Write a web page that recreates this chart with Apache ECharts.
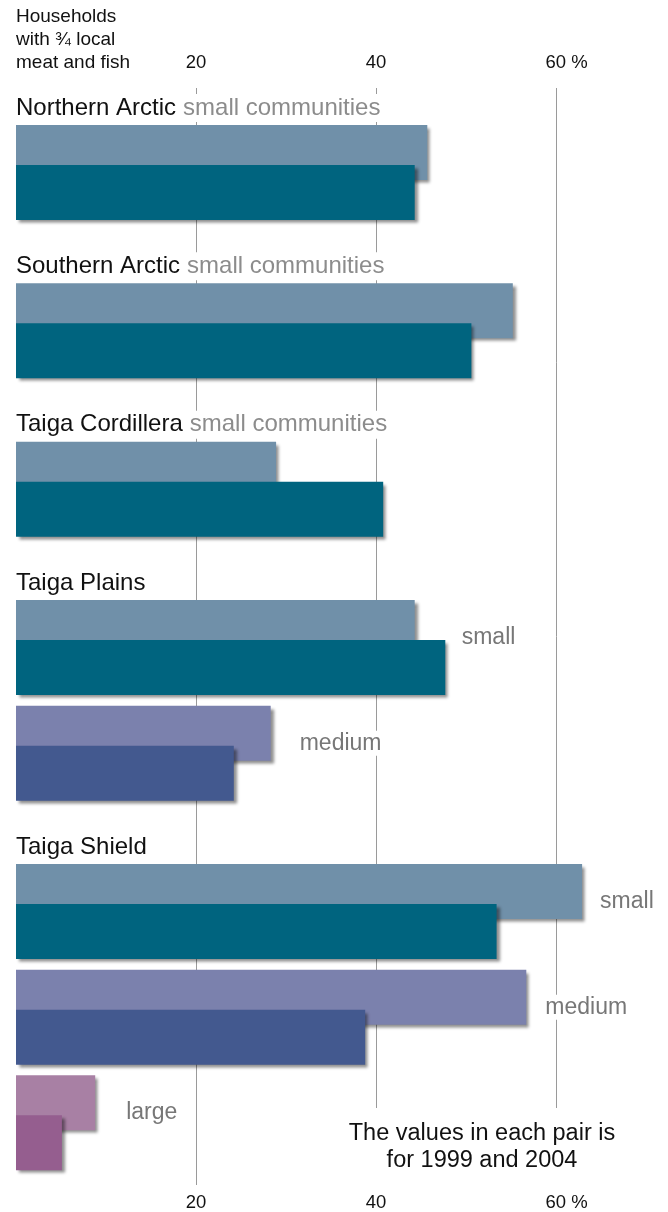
<!DOCTYPE html>
<html><head><meta charset="utf-8">
<script src="https://cdn.jsdelivr.net/npm/echarts@6/dist/echarts.min.js"></script>
<style>html,body{margin:0;padding:0;background:#fff}#c{width:668px;height:1212px}</style>
</head><body><div id="c"></div>
<script>
// ---- data ----
const regions = ['Northern Arctic','Southern Arctic','Taiga Cordillera','Taiga Plains','Taiga Plains','Taiga Shield','Taiga Shield','Taiga Shield'];
const sizes = ['small','small','small','small','medium','small','medium','large'];
const values1999 = [45.7, 55.2, 28.9, 44.3, 28.3, 62.9, 56.7, 8.8];
const values2004 = [44.3, 50.6, 40.8, 47.7, 24.2, 53.4, 38.8, 5.1];
const tickValues = [20, 40, 60];
const axisTitle = 'Households\nwith \u00BE local\nmeat and fish';
const noteText = 'The values in each pair is\nfor 1999 and 2004';
const singleSizeSuffix = ' communities';

// ---- layout / style ----
const FONT = '"Liberation Sans", Arial, Helvetica, sans-serif';
const rowSlot = [0, 3, 6, 9, 11, 14, 16, 18];
const slotCount = 19;
const sizeLabelDist = [0, 0, 0, 44, 26, 15, 16, 28];
const colors1999 = {small: '#7090a9', medium: '#7b81ad', large: '#a880a4'};
const colors2004 = {small: '#00647f', medium: '#43598f', large: '#955e8f'};
const shadow = {shadowBlur: 3, shadowColor: 'rgba(0,0,0,0.45)', shadowOffsetX: 3, shadowOffsetY: 3};

const regionCount = {};
regions.forEach(r => regionCount[r] = (regionCount[r] || 0) + 1);

const cats = Array.from({length: slotCount}, (_, i) => 'slot' + i);
const d1999 = Array(slotCount).fill('-');
const d2004 = Array(slotCount).fill('-');
const seen = {};
regions.forEach((r, i) => {
  const s = rowSlot[i];
  const single = regionCount[r] === 1;
  const item1999 = {value: values1999[i], itemStyle: Object.assign({color: colors1999[sizes[i]]}, shadow)};
  const item2004 = {value: values2004[i], itemStyle: Object.assign({color: colors2004[sizes[i]]}, shadow)};
  if (!single) {
    item1999.label = {
      show: true, position: 'right', distance: sizeLabelDist[i], offset: [0, 10],
      formatter: sizes[i], color: '#777', fontSize: 23, fontFamily: FONT,
      backgroundColor: '#fff', padding: [1, 3]
    };
  }
  if (!seen[r]) {
    seen[r] = true;
    item2004.label = {
      show: true, position: [0, -57], align: 'left', verticalAlign: 'middle',
      formatter: single ? '{r|' + r + '}{s|' + sizes[i] + singleSizeSuffix + '}' : '{r|' + r + '}',
      backgroundColor: '#fff', padding: [1, 3, 1, 0],
      rich: {
        r: {fontSize: 24, color: '#111', fontFamily: FONT, lineHeight: 26},
        s: {fontSize: 24, color: '#8c8c8c', fontFamily: FONT, lineHeight: 26, padding: [0, 0, 0, 7]}
      }
    };
  }
  d1999[s] = item1999;
  d2004[s] = item2004;
});

const tickFormatter = v => tickValues.indexOf(v) < 0 ? '' : (v === 60 ? '{p|' + v + ' %}' : '{n|' + v + '}');
const tickRich = {n: {fontSize: 18.5, color: '#111', fontFamily: FONT}, p: {fontSize: 18.5, color: '#111', fontFamily: FONT, padding: [0, 0, 0, 21]}};

const chart = echarts.init(document.getElementById('c'), null, {renderer: 'canvas'});
chart.setOption({
  animation: false,
  backgroundColor: '#fff',
  title: {
    text: axisTitle, left: 16, top: 5, padding: 0,
    textStyle: {fontSize: 19, fontWeight: 'normal', color: '#111', fontFamily: FONT, lineHeight: 23}
  },
  grid: [
    {left: 16, width: 648, top: 146, height: 1003.2},
    {left: 16, width: 648, top: 88, height: 1097}
  ],
  xAxis: [
    {gridIndex: 0, type: 'value', min: 0, max: 72, interval: 20, show: false},
    {gridIndex: 1, type: 'value', min: 0, max: 72, interval: 20, position: 'top',
      axisLine: {show: false}, axisTick: {show: false},
      splitLine: {show: true, showMinLine: false, showMaxLine: false, lineStyle: {color: '#9a9a9a', width: 1}},
      axisLabel: {margin: 16, showMinLabel: false, showMaxLabel: false, formatter: tickFormatter, rich: tickRich}},
    {gridIndex: 1, type: 'value', min: 0, max: 72, interval: 20, position: 'bottom',
      axisLine: {show: false}, axisTick: {show: false}, splitLine: {show: false},
      axisLabel: {margin: 8, showMinLabel: false, showMaxLabel: false, formatter: tickFormatter, rich: tickRich}}
  ],
  yAxis: [
    {gridIndex: 0, type: 'category', inverse: true, data: cats, show: false},
    {gridIndex: 1, type: 'value', min: 0, max: 1, show: false}
  ],
  graphic: [
    {type: 'rect', z: 1, shape: {x: 330, y: 1108, width: 335, height: 77}, style: {fill: '#fff'}},
    {type: 'text', z: 2, x: 482, y: 1147, style: {text: noteText, fill: '#111', font: '23.5px ' + FONT, textAlign: 'center', textVerticalAlign: 'middle', lineHeight: 27}}
  ],
  series: [
    {type: 'bar', name: '1999', xAxisIndex: 0, yAxisIndex: 0, barWidth: 55, barGap: '-27.27%', z: 2, clip: false, data: d1999},
    {type: 'bar', name: '2004', xAxisIndex: 0, yAxisIndex: 0, barWidth: 55, barGap: '-27.27%', z: 3, clip: false, data: d2004}
  ]
});
</script>
</body></html>
